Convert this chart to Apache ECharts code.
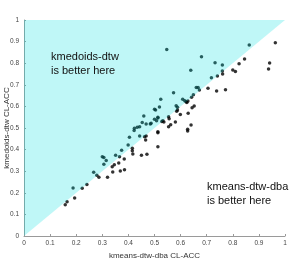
<!DOCTYPE html>
<html><head><meta charset="utf-8">
<script src="https://cdn.jsdelivr.net/npm/echarts@6/dist/echarts.min.js"></script>
<style>html,body{margin:0;padding:0;background:#fff}#c{width:299px;height:265px}</style>
</head><body><div id="c"></div>
<script>
const xTicks = [0,0.1,0.2,0.3,0.4,0.5,0.6,0.7,0.8,0.9,1];
const yTicks = [0,0.1,0.2,0.3,0.4,0.5,0.6,0.7,0.8,0.9,1];
const triangle = [[0,0],[0,1],[1,1]];
const kmeansAcc = [0.158,0.165,0.194,0.188,0.223,0.241,0.267,0.279,0.287,0.300,0.306,0.315,0.306,0.320,0.338,0.346,0.340,0.351,0.366,0.363,0.369,0.374,0.384,0.385,0.399,0.404,0.415,0.415,0.417,0.422,0.443,0.450,0.466,0.468,0.471,
0.459,0.453,0.468,0.443,0.423,0.434,0.484,0.487,0.462,0.513,0.513,0.513,0.627,0.627,0.500,0.513,0.508,0.500,0.504,0.519,0.524,0.513,0.532,0.528,0.536,0.554,0.556,0.580,0.562,0.554,0.640,0.583,0.588,0.588,0.585,0.599,0.629,0.652,0.644,0.608,0.616,0.621,0.628,0.624,0.573,0.649,0.642,0.660,0.667,0.672,0.705,0.738,0.772,0.718,0.741,0.760,0.761,0.800,0.810,0.639,0.732,0.760,0.824,0.845,0.941,0.937,0.680,0.547,0.863,0.963];
const kmedoidsAcc = [0.145,0.159,0.176,0.222,0.221,0.238,0.295,0.281,0.272,0.367,0.363,0.349,0.332,0.272,0.321,0.330,0.296,0.374,0.367,0.338,0.301,0.397,0.356,0.307,0.421,0.457,0.406,0.395,0.380,0.488,0.463,0.374,0.444,0.463,0.378,
0.556,0.525,0.519,0.506,0.499,0.503,0.519,0.522,0.460,0.478,0.483,0.413,0.486,0.494,0.540,0.550,0.534,0.587,0.583,0.597,0.633,0.546,0.534,0.530,0.528,0.552,0.543,0.528,0.515,0.506,0.514,0.603,0.596,0.583,0.578,0.563,0.568,0.602,0.594,0.633,0.626,0.622,0.625,0.618,0.663,0.654,0.642,0.687,0.688,0.676,0.684,0.671,0.677,0.733,0.741,0.764,0.750,0.769,0.761,0.767,0.802,0.792,0.798,0.819,0.801,0.773,0.830,0.863,0.884,0.895];
const xName = 'kmeans-dtw-dba CL-ACC';
const yName = 'kmedoids-dtw CL-ACC';
const textAbove = 'kmedoids-dtw\nis better here';
const textBelow = 'kmeans-dtw-dba\nis better here';

const pts = kmeansAcc.map((x,i)=>[x,kmedoidsAcc[i]]);
const FONT = 'Liberation Sans, Arial, sans-serif';
const chart = echarts.init(document.getElementById('c'), null, {renderer:'canvas'});
const axisCommon = {
  type:'value', min:0, max:1, interval:0.1,
  axisLine:{show:true, lineStyle:{color:'#9a9a9a', width:1}},
  axisTick:{show:true, inside:true, length:2, lineStyle:{color:'#9a9a9a'}},
  splitLine:{show:false},
  axisLabel:{fontSize:6.5, color:'#444', fontFamily:FONT, formatter:v=>String(Math.round(v*10)/10)},
  nameLocation:'middle', nameMoveOverlap:false, nameTextStyle:{fontSize:8, color:'#333', fontFamily:FONT}
};
chart.setOption({
  animation:false,
  grid:{left:24, right:14, top:20, bottom:29, containLabel:false, outerBoundsMode:'none'},
  xAxis:Object.assign({}, axisCommon, {name:xName, nameGap:16, axisLabel:Object.assign({}, axisCommon.axisLabel, {margin:4})}),
  yAxis:Object.assign({}, axisCommon, {name:yName, nameGap:13, axisLabel:Object.assign({}, axisCommon.axisLabel, {margin:5})}),
  series:[
    {type:'scatter', data:pts, symbolSize:3.5, itemStyle:{color:'#000'}, z:2},
    {type:'custom', z:3, data:triangle, silent:true,
     renderItem:function(params, api){
       if(params.dataIndex!==0) return null;
       const poly = triangle.map(p=>api.coord(p));
       return {type:'polygon', shape:{points:poly}, style:{fill:'rgba(0,222,222,0.25)'}};
     }}
  ],
  graphic:[
    {type:'text', left:51, top:50, z:10, style:{text:textAbove, font:'11px '+FONT, fill:'#111', lineHeight:14}},
    {type:'text', left:207, top:180, z:10, style:{text:textBelow, font:'11px '+FONT, fill:'#111', lineHeight:14}}
  ]
});
</script></body></html>
